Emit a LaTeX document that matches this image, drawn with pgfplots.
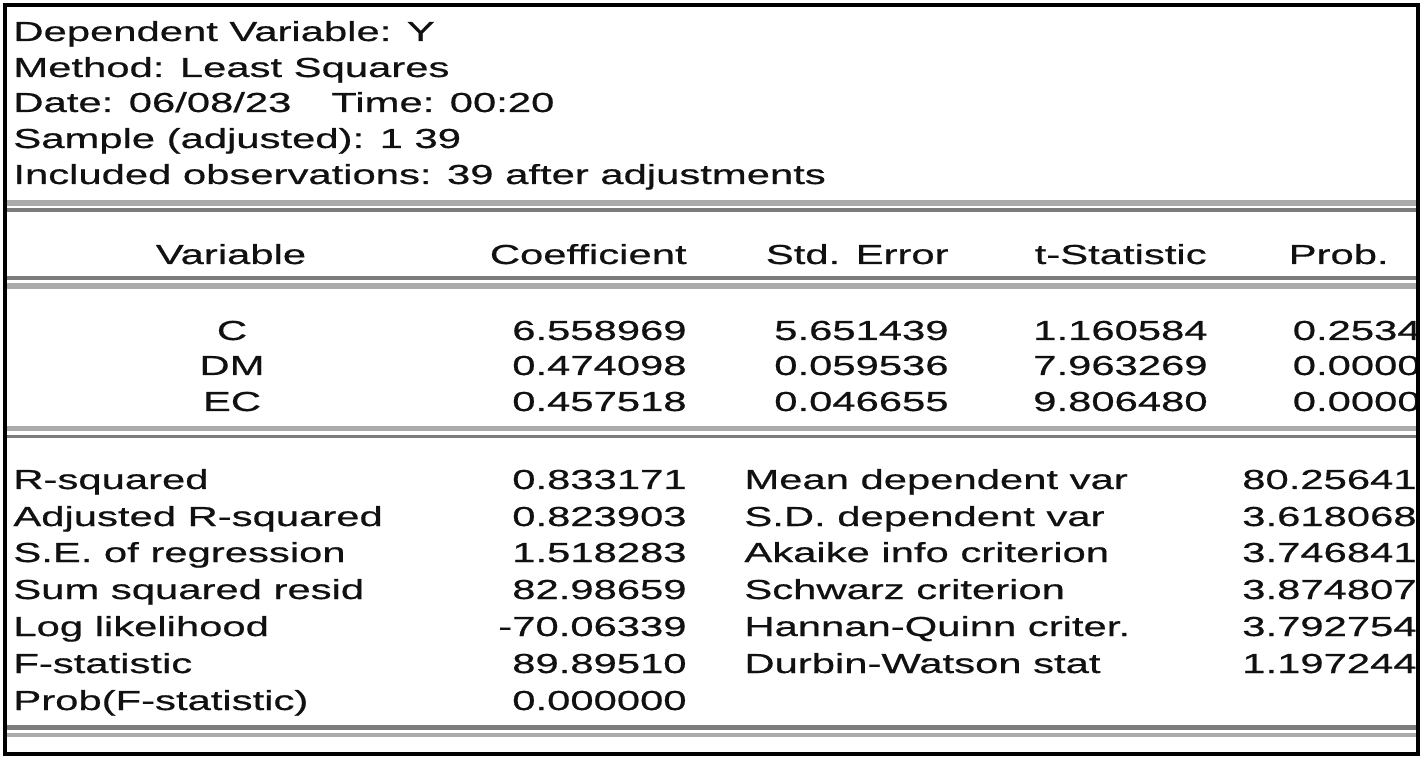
\documentclass[border=0pt]{standalone}
\usepackage{fontspec}
\setmainfont{Liberation Sans}[FakeStretch=1.52, FakeBold=0.6]
\usepackage{pgfplots}
\usepackage{pgfplotstable}
\pgfplotsset{compat=1.18}
\definecolor{lg}{HTML}{ABABAB}
\definecolor{dg}{HTML}{7C7C7C}
\definecolor{txt}{HTML}{111111}
\newcommand\tabfont{\fontsize{13.75}{16}\selectfont}

% coefficient table: x = right edge (px), y = baseline (px from top)
\pgfplotstableread{
x y val
687 340 6.558969
687 375 0.474098
687 411 0.457518
}\coef
\pgfplotstableread{
x y val
949 340 5.651439
949 375 0.059536
949 411 0.046655
}\stderr
\pgfplotstableread{
x y val
1208 340 1.160584
1208 375 7.963269
1208 411 9.806480
}\tstat
\pgfplotstableread{
x y val
1421 340 0.2534
1421 375 0.0000
1421 411 0.0000
}\prob
\pgfplotstableread{
x y val
687 489 0.833171
687 526 0.823903
687 562 1.518283
687 599 82.98659
687 636 -70.06339
687 673 89.89510
687 710 0.000000
}\statsA
\pgfplotstableread{
x y val
1417 489 80.25641
1417 526 3.618068
1417 562 3.746841
1417 599 3.874807
1417 636 3.792754
1417 673 1.197244
}\statsB

\begin{document}
\begin{tikzpicture}
\begin{axis}[
  scale only axis, width=713.5pt, height=381.5pt,
  xmin=0, xmax=1427, ymin=0, ymax=763, y dir=reverse,
  hide axis, clip=false,
  numtab/.style={draw=none, mark=none,
    nodes near coords, point meta=explicit symbolic,
    nodes near coords align={anchor=base east},
    every node near coord/.append style={anchor=base east, inner sep=0pt, font=\tabfont, text=txt}},
]
\fill[white] (axis cs:0,0) rectangle (axis cs:1427,763);

% header block
\begin{scope}[every node/.style={anchor=base west, inner sep=0pt, font=\tabfont, text=txt}]
\node at (axis cs:13,41) {Dependent Variable: Y};
\node at (axis cs:13,77) {Method: Least Squares};
\node at (axis cs:13,112) {Date: 06/08/23\hspace{1.45em}Time: 00:20};
\node at (axis cs:13,148) {Sample (adjusted): 1 39};
\node at (axis cs:13,184) {Included observations: 39 after adjustments};
\end{scope}

% double lines
\draw[lg, line width=3pt] (axis cs:7,203) -- (axis cs:1417,203);
\draw[dg, line width=2pt] (axis cs:7,210) -- (axis cs:1417,210);
\draw[dg, line width=2pt] (axis cs:7,278) -- (axis cs:1417,278);
\draw[lg, line width=3pt] (axis cs:7,286) -- (axis cs:1417,286);
\draw[lg, line width=2.5pt] (axis cs:7,429) -- (axis cs:1417,429);
\draw[dg, line width=1.8pt] (axis cs:7,436.5) -- (axis cs:1417,436.5);
\draw[dg, line width=2.5pt] (axis cs:7,727.5) -- (axis cs:1417,727.5);
\draw[lg, line width=2pt] (axis cs:7,735) -- (axis cs:1417,735);

% column headers
\begin{scope}[every node/.style={inner sep=0pt, font=\tabfont, text=txt}]
\node[anchor=base] at (axis cs:231,264) {Variable};
\node[anchor=base east] at (axis cs:687,264) {Coefficient};
\node[anchor=base east] at (axis cs:949,264) {Std. Error};
\node[anchor=base east] at (axis cs:1207,264) {t-Statistic};
\node[anchor=base east] at (axis cs:1389,264) {Prob.};
\node[anchor=base] at (axis cs:232,340) {C};
\node[anchor=base] at (axis cs:232,375) {DM};
\node[anchor=base] at (axis cs:232,411) {EC};
\end{scope}

% statistics labels
\begin{scope}[every node/.style={anchor=base west, inner sep=0pt, font=\tabfont, text=txt}]
\node at (axis cs:13,489) {R-squared};
\node at (axis cs:13,526) {Adjusted R-squared};
\node at (axis cs:13,562) {S.E. of regression};
\node at (axis cs:13,599) {Sum squared resid};
\node at (axis cs:13,636) {Log likelihood};
\node at (axis cs:13,673) {F-statistic};
\node at (axis cs:13,710) {Prob(F-statistic)};
\node at (axis cs:744,489) {Mean dependent var};
\node at (axis cs:744,526) {S.D. dependent var};
\node at (axis cs:744,562) {Akaike info criterion};
\node at (axis cs:744,599) {Schwarz criterion};
\node at (axis cs:744,636) {Hannan-Quinn criter.};
\node at (axis cs:744,673) {Durbin-Watson stat};
\end{scope}

\addplot[numtab] table[x=x, y=y, meta=val] {\coef};
\addplot[numtab] table[x=x, y=y, meta=val] {\stderr};
\addplot[numtab] table[x=x, y=y, meta=val] {\tstat};
\addplot[numtab] table[x=x, y=y, meta=val] {\prob};
\addplot[numtab] table[x=x, y=y, meta=val] {\statsA};
\addplot[numtab] table[x=x, y=y, meta=val] {\statsB};

\coordinate (bl) at (axis cs:5,754);
\coordinate (tr) at (axis cs:1418,5.5);
\coordinate (mr) at (axis cs:1420,0);
\coordinate (ee) at (axis cs:1427,763);
\end{axis}
\fill[white] (mr) rectangle (ee);
\draw[black, line width=2pt] (bl) rectangle (tr);
\end{tikzpicture}
\end{document}
